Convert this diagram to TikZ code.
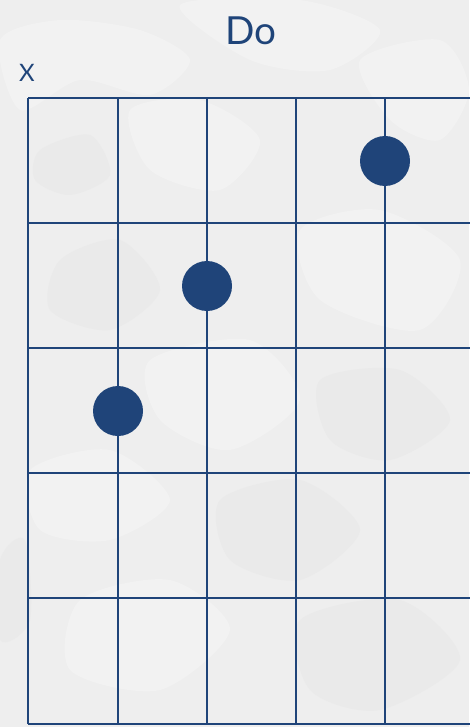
\documentclass[tikz,border=0pt]{standalone}
\usepackage{fontspec}
\setmainfont{Lato}
\definecolor{ink}{HTML}{1F4479}
\definecolor{bgA}{HTML}{EEEEEE}
\definecolor{bgB}{HTML}{EAEAEA}
\definecolor{bgC}{HTML}{F2F2F2}
\tikzset{
  gridline/.style={draw=ink, line width=1.6pt},
  fingerdot/.style={circle, fill=ink, inner sep=0pt, minimum size=37.5pt},
  blobA/.style={fill=bgB},
  blobB/.style={fill=bgC},
}
\begin{document}
\begin{tikzpicture}[x=0.75pt,y=-0.75pt]
\fill[bgA] (0,0) rectangle (469,727);
\useasboundingbox (0,0) rectangle (469,727);
% camouflage background blobs
\fill[blobB] plot[smooth cycle] coordinates {(0,40) (60,20) (140,30) (190,60) (150,95) (80,80) (20,110)};
\fill[blobB] plot[smooth cycle] coordinates {(180,5) (300,0) (380,30) (330,70) (250,60)};
\fill[blobB] plot[smooth cycle] coordinates {(360,60) (440,40) (469,90) (440,140) (390,120)};
\fill[blobA] plot[smooth cycle] coordinates {(40,150) (90,135) (110,175) (70,195) (35,180)};
\fill[blobB] plot[smooth cycle] coordinates {(130,110) (200,100) (260,140) (220,190) (150,170)};
\fill[blobB] plot[smooth cycle] coordinates {(300,230) (380,210) (460,260) (420,330) (320,300)};
\fill[blobA] plot[smooth cycle] coordinates {(60,260) (120,240) (160,290) (110,330) (50,310)};
\fill[blobB] plot[smooth cycle] coordinates {(150,360) (250,340) (300,400) (230,450) (160,420)};
\fill[blobA] plot[smooth cycle] coordinates {(320,380) (400,370) (450,420) (390,460) (330,440)};
\fill[blobB] plot[smooth cycle] coordinates {(30,470) (110,450) (170,500) (110,540) (40,530)};
\fill[blobA] plot[smooth cycle] coordinates {(220,500) (300,480) (360,530) (300,580) (230,560)};
\fill[blobB] plot[smooth cycle] coordinates {(80,600) (170,580) (230,630) (160,690) (70,670)};
\fill[blobA] plot[smooth cycle] coordinates {(300,620) (400,600) (460,660) (380,710) (310,690)};
\fill[blobA] plot[smooth cycle] coordinates {(0,560) (25,540) (30,620) (0,640)};
% labels
\node[text=ink, font=\fontsize{29}{29}\selectfont, anchor=base] (title) at (251,45) {Do};
\node[text=ink, font=\fontsize{18}{18}\selectfont, anchor=base] (mute) at (27,82) {X};
% grid
\foreach \x in {28,118,207,296,385} \draw[gridline] (\x,98) -- (\x,724);
\foreach \y in {98,223,348,473,598,724} \draw[gridline] (28,\y) -- (470,\y);
% finger dots
\node[fingerdot] (d1) at (385,161) {};
\node[fingerdot] (d2) at (207,286) {};
\node[fingerdot] (d3) at (118,411) {};
\end{tikzpicture}
\end{document}
